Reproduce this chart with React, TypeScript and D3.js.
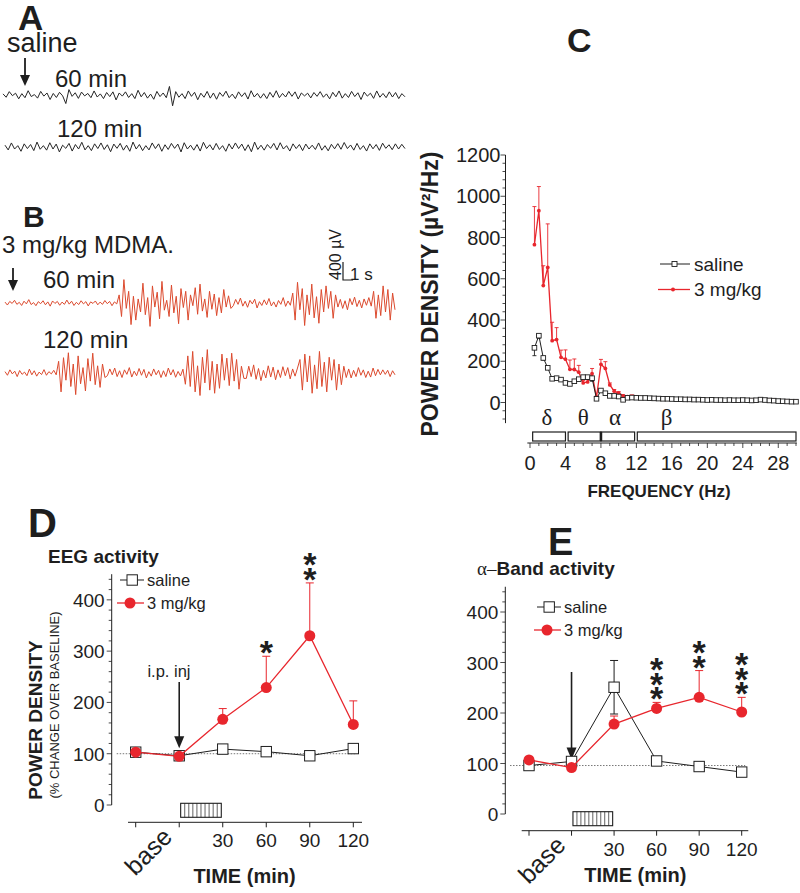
import * as d3 from 'd3';

const SANS = '"Liberation Sans", Arial, Helvetica, sans-serif';
const SERIF = '"Liberation Serif", "DejaVu Serif", serif';
const RED = '#e8262d';
const TRACE_RED = '#dc4a2e';
const INK = '#1e1e1e';

// ---- A / B : raw EEG traces (µV) ----
const salineTrace60 = [25,-50,75,-15,40,-85,30,-60,95,-35,10,-70,80,-25,45,-100,35,-55,60,-20,-190,120,-30,50,-75,65,-20,35,-60,90,-45,25,-80,55,-35,70,-110,45,-25,70,-55,30,-80,105,-40,55,-70,20,-95,80,-35,45,-60,190,-240,75,-50,30,-80,90,-30,60,-105,40,-50,80,-70,45,-95,55,-30,85,-60,20,-80,70,-35,50,-90,95,-45,35,-70,30,-80,60,-50,95,-60,35,-45,80,-30,70,-90,45,-20,40,-65,55,-30,75,-50,25,-85,60,-40,90,-70,30,-55,80,-35,50,-100,65,-25,40,-75,90,-50,35,-60,70,-45,55,-80,30,-40];
const salineTrace120 = [40,-65,90,-45,30,-95,70,-35,55,-80,110,-50,30,-70,95,-45,65,-110,40,-30,80,-90,55,-45,105,-65,30,-80,70,-35,90,-55,50,-105,65,-30,80,-70,40,-95,110,-45,55,-80,30,-65,90,-35,70,-95,50,-55,80,-30,65,-110,95,-45,40,-70,55,-90,105,-35,50,-65,80,-55,30,-95,70,-45,90,-35,65,-80,50,-105,110,-55,40,-70,55,-30,80,-65,95,-45,30,-90,70,-35,55,-80,65,-45,40,-55,90,-70,30,-85,60,-40,75,-50,100,-35,45,-70,80,-55,30,-90,70,-40,55,-75,85,-30,50,-60,70,-45,60,-35];
const mdmaTrace60 = [
  20,-45,35,-10,60,-30,15,-55,40,-20,75,-35,10,-60,30,-15,50,-40,25,-70,45,-10,35,-50,20,-30,65,-25,40,-55,15,-35,50,-20,30,-65,25,-10,45,-40,20,-30,55,-15,35,-60,25,-20,
  180,-300,520,-120,260,-480,150,-380,90,-200,440,-260,120,-520,380,-90,240,-350,480,-160,60,-300,400,-220,150,-460,320,-100,260,-380,180,-60,340,-250,420,-180,90,-320,260,-140,200,-280,120,-220,300,-90,160,-120,
  -60,80,-30,110,-70,40,-95,60,-20,85,-110,30,-55,70,-40,100,-65,25,-90,55,-30,120,-75,45,-50,
  220,-380,460,-150,320,-500,180,-260,420,-330,140,-450,300,-200,380,-120,260,-340,180,-90,
  80,-120,50,-150,100,-40,130,-80,60,-110,90,-50,120,-70,
  260,-340,180,-280,380,-200,300,-380,220,-150,
];
const mdmaTrace120 = [
  30,-50,70,-20,40,-80,55,-30,20,-60,85,-40,50,-70,20,-35,75,-50,30,-20,60,-40,
  260,-420,340,-160,450,-300,200,-480,380,-240,120,-400,320,-180,440,-260,160,-320,200,-100,
  -60,90,-40,110,-80,50,-100,70,-30,120,-90,40,-60,100,-50,80,-110,30,-70,90,-40,60,-100,50,-80,110,-45,75,-95,35,-65,85,
  -250,380,-300,480,-420,160,-500,350,-220,520,-380,260,-450,200,-340,420,-160,330,-280,440,-180,300,-360,150,-120,
  -120,150,-80,180,-140,100,-170,60,-110,160,-90,130,-150,70,-100,140,-60,120,-130,90,-70,110,
  300,-380,420,-200,380,-450,180,-350,480,-300,240,-420,350,-160,300,-380,200,-260,150,-100,
  90,-110,60,-80,120,-50,70,-100,40,-90,110,-60,80,-40,70,-30,60,-80,50,-40,
];

// ---- C : power spectrum ----
const freqHz = [0.5,1,1.5,2,2.5,3,3.5,4,4.5,5,5.5,6,6.5,7,7.5,8,8.5,9,9.5,10,10.5,11,11.5,12,12.5,13,13.5,14,14.5,15,15.5,16,16.5,17,17.5,18,18.5,19,19.5,20,20.5,21,21.5,22,22.5,23,23.5,24,24.5,25,25.5,26,26.5,27,27.5,28,28.5,29,29.5,30];
const specSaline = [265,324,216,168,115,118,111,95,90,103, 113,123,123,118,18,58,45,32,32,29, 13,23,24,23,22,22,21,20,19,18, 18,17,16,16,15,15,14,14,13,12, 13,12,12,11,12,11,11,12,11,10, 11,14,12,10,9,7,6,5,4,4];
const specSalineErr = [38,12,10,8,6,5,5,6,5,6, 6,8,10,15,4,6,4,3,3,3, 2,2,2,2,2,2,2,2,2,2, 2,2,2,2,2,2,2,2,2,2, 2,2,2,2,2,2,2,2,2,2, 2,2,2,2,2,2,2,2,2,2];
const specMdma = [765,930,567,655,300,305,219,210,161,160, 147,95,100,140,25,185,165,85,55,45, 32,28,27,26,24,23,22,21,20,19, 19,18,17,17,16,16,15,15,14,13, 14,13,13,12,13,12,12,13,12,11, 12,15,13,11,10,8,7,6,5,5];
const specMdmaErr = [185,117,96,211,89,58,35,45,45,51, 33,12,14,25,6,24,33,10,8,8, 6,5,10,4,3,3,3,3,3,3, 3,3,3,3,3,3,3,3,3,3, 3,3,3,3,3,3,3,3,3,3, 3,3,3,3,3,3,3,3,3,3];
const bandNames = ['δ', 'θ', 'α', 'β'];
const bandFrom = [0.3, 4.3, 8, 12.1];
const bandTo = [4, 8, 11.8, 30];
const bandLabelHz = [1.9, 6, 9.6, 15.4];
const freqTicks = [0, 4, 8, 12, 16, 20, 24, 28];
const specTicks = [0, 200, 400, 600, 800, 1000, 1200];

// ---- D / E : time course (% of baseline) ----
const timeMin = [-30, 0, 30, 60, 90, 120];
const timeLabels = ['base', '', '30', '60', '90', '120'];
const powerTicks = [0, 100, 200, 300, 400];

const eegSaline = [103, 96, 109, 104, 96, 110];
const eegSalineErr = [0, 0, 0, 0, 0, 0];
const eegMdma = [103, 95, 167, 229, 330, 157];
const eegMdmaErr = [0, 0, 21, 61, 103, 46];
const eegStars = [0, 0, 0, 1, 2, 0];

const alphaSaline = [96, 104, 251, 105, 94, 83];
const alphaSalineErr = [0, 0, 53, 0, 0, 0];
const alphaMdma = [107, 92, 178, 209, 231, 202];
const alphaMdmaErr = [0, 0, 16, 12, 53, 29];
const alphaStars = [0, 0, 0, 3, 2, 3];

function DownArrow({ x, y1, y2, head = 11, half = 4.5, w = 1.6 }: any) {
  return (
    <g>
      <line x1={x} x2={x} y1={y1} y2={y2 - head + 1} stroke={INK} strokeWidth={w} />
      <path d={`M${x - half},${y2 - head}L${x + half},${y2 - head}L${x},${y2}Z`} fill={INK} />
    </g>
  );
}

function Trace({ data, x0, x1, cy, color, width = 1 }: any) {
  const x = d3.scaleLinear().domain([0, data.length - 1]).range([x0, x1]);
  const y = d3.scaleLinear().domain([-400, 400]).range([cy + 18, cy - 18]);
  const line = d3.line<number>().x((_, i) => x(i)).y((d) => y(d));
  return <path d={line(data) || ''} fill="none" stroke={color} strokeWidth={width} strokeLinejoin="round" />;
}

function SpectrumPanel() {
  const x = d3.scaleLinear().domain([0, 30]).range([530, 796]);
  const y = d3.scaleLinear().domain([0, 1200]).range([402.5, 155]);
  const axisX = 505.5;
  const axisY = 443;
  const line = d3.line<number>().x((_, i) => x(freqHz[i])).y((d) => y(d));
  const minorY = d3.range(-80, 1201, 40);
  const minorX = d3.range(0, 31, 1);

  return (
    <g fontFamily={SANS} fill={INK}>
      {/* y axis */}
      <line x1={axisX} x2={axisX} y1={y(1200)} y2={y(-100)} stroke={INK} strokeWidth={1} />
      {minorY.map((v) => (
        <line key={v} x1={axisX - (v % 200 === 0 ? 5 : 3)} x2={axisX} y1={y(v)} y2={y(v)} stroke={INK} strokeWidth={0.8} />
      ))}
      {specTicks.map((v) => (
        <text key={v} x={axisX - 5} y={y(v) + 7} fontSize={20} textAnchor="end">{v}</text>
      ))}
      <text transform={`translate(438,294) rotate(-90)`} fontSize={23} fontWeight="bold" textAnchor="middle">
        POWER DENSITY (µV²/Hz)
      </text>

      {/* x axis */}
      <line x1={x(-0.3)} x2={x(30.1)} y1={axisY} y2={axisY} stroke={INK} strokeWidth={1} />
      {minorX.map((v) => (
        <line key={v} x1={x(v)} x2={x(v)} y1={axisY} y2={axisY + (v % 4 === 0 ? 5 : 3)} stroke={INK} strokeWidth={0.8} />
      ))}
      {freqTicks.map((v) => (
        <text key={v} x={x(v)} y={470} fontSize={20} textAnchor="middle">{v}</text>
      ))}
      <text x={659} y={497} fontSize={17} fontWeight="bold" textAnchor="middle">FREQUENCY (Hz)</text>

      {/* frequency bands */}
      {bandNames.map((b, i) => (
        <g key={b}>
          <rect x={x(bandFrom[i])} y={432} width={x(bandTo[i]) - x(bandFrom[i])} height={9} fill="#fff" stroke={INK} strokeWidth={1.2} />
          <text x={x(bandLabelHz[i])} y={425} fontFamily={SERIF} fontSize={23} textAnchor="middle">{b}</text>
        </g>
      ))}
      <rect x={x(8) - 1.3} y={432} width={2.6} height={9} fill={INK} />

      {/* 3 mg/kg series (under) */}
      <path d={line(specMdma) || ''} fill="none" stroke={RED} strokeWidth={1.3} />
      {specMdma.map((v, i) => (
        <g key={i} stroke={RED} strokeWidth={0.9}>
          <line x1={x(freqHz[i])} x2={x(freqHz[i])} y1={y(v)} y2={y(v + specMdmaErr[i])} />
          <line x1={x(freqHz[i]) - 2} x2={x(freqHz[i]) + 2} y1={y(v + specMdmaErr[i])} y2={y(v + specMdmaErr[i])} />
        </g>
      ))}
      {specMdma.map((v, i) => (
        <circle key={i} cx={x(freqHz[i])} cy={y(v)} r={1.9} fill={RED} />
      ))}

      {/* saline series */}
      <path d={line(specSaline) || ''} fill="none" stroke={INK} strokeWidth={1} />
      {specSaline.map((v, i) => (
        <g key={i} stroke={INK} strokeWidth={0.9}>
          <line x1={x(freqHz[i])} x2={x(freqHz[i])} y1={y(v)} y2={y(v - specSalineErr[i])} />
          <line x1={x(freqHz[i]) - 2} x2={x(freqHz[i]) + 2} y1={y(v - specSalineErr[i])} y2={y(v - specSalineErr[i])} />
        </g>
      ))}
      {specSaline.map((v, i) => (
        <rect key={i} x={x(freqHz[i]) - 2.3} y={y(v) - 2.3} width={4.6} height={4.6} fill="#fff" stroke={INK} strokeWidth={0.9} />
      ))}

      {/* legend */}
      <line x1={660} x2={690} y1={264} y2={264} stroke={INK} strokeWidth={1} />
      <rect x={672} y={261.5} width={5} height={5} fill="#fff" stroke={INK} strokeWidth={0.9} />
      <text x={694} y={271} fontSize={19}>saline</text>
      <line x1={658} x2={690} y1={289.5} y2={289.5} stroke={RED} strokeWidth={1.3} />
      <circle cx={673} cy={289.5} r={2} fill={RED} />
      <text x={694} y={296} fontSize={19}>3 mg/kg</text>

      <text x={567} y={52} fontSize={34} fontWeight="bold">C</text>
    </g>
  );
}

function TimePanel({
  x0, x1, yBase, yTop, yAxisX, xAxisY, xAxisL, xAxisR, titleY,
  saline, salineErr, mdma, mdmaErr, stars, refLevel,
  legendX, legendY, arrowTop,
}: any) {
  const x = d3.scaleLinear().domain([-30, 120]).range([x0, x1]);
  const y = d3.scaleLinear().domain([0, 450]).range([yBase, yTop]);
  const line = d3.line<number>().x((_, i) => x(timeMin[i])).y((d) => y(d));
  const minor = d3.range(0, 451, 20);
  const boxL = x(1);
  const boxR = x(29);
  const hatch = d3.range(1, 10).map((k) => boxL + ((boxR - boxL) * k) / 10);

  return (
    <g fontFamily={SANS} fill={INK}>
      {/* y axis */}
      <line x1={yAxisX} x2={yAxisX} y1={y(450)} y2={y(0)} stroke={INK} strokeWidth={1} />
      {minor.map((v) => (
        <line key={v} x1={yAxisX - (v % 100 === 0 ? 5 : 3)} x2={yAxisX} y1={y(v)} y2={y(v)} stroke={INK} strokeWidth={0.8} />
      ))}
      {powerTicks.map((v) => (
        <text key={v} x={yAxisX - 7} y={y(v) + 7} fontSize={19} textAnchor="end">{v}</text>
      ))}

      {/* x axis */}
      <line x1={xAxisL} x2={xAxisR} y1={xAxisY} y2={xAxisY} stroke={INK} strokeWidth={1} />
      {timeMin.map((t) => (
        <line key={t} x1={x(t)} x2={x(t)} y1={xAxisY} y2={xAxisY + 5} stroke={INK} strokeWidth={1} />
      ))}
      {timeLabels.map((l, i) =>
        l === 'base' ? (
          <text key={l} transform={`translate(${x(timeMin[i]) + 38},${xAxisY + 16}) rotate(-45)`} fontSize={25} textAnchor="end">{l}</text>
        ) : l ? (
          <text key={l} x={x(timeMin[i])} y={xAxisY + 25} fontSize={19} textAnchor="middle">{l}</text>
        ) : null,
      )}
      <text x={(x(-30) + x(120)) / 2} y={titleY} fontSize={20} fontWeight="bold" textAnchor="middle">TIME (min)</text>

      {/* injection box */}
      <rect x={boxL} y={xAxisY - 19} width={boxR - boxL} height={14} fill="#fff" stroke={INK} strokeWidth={1.1} />
      {hatch.map((hx, k) => (
        <line key={k} x1={hx} x2={hx} y1={xAxisY - 19} y2={xAxisY - 5} stroke={INK} strokeWidth={0.7} />
      ))}

      {/* baseline reference */}
      <line x1={x0 - 19} x2={x1 + 3.5} y1={y(refLevel)} y2={y(refLevel)} stroke="#555" strokeWidth={0.8} strokeDasharray="1.5,1.5" />

      {/* injection arrow */}
      <DownArrow x={x(0)} y1={arrowTop} y2={y(mdma[1]) - 8} head={12} half={5} />

      {/* saline */}
      <path d={line(saline) || ''} fill="none" stroke={INK} strokeWidth={1} />
      {saline.map((v: number, i: number) =>
        salineErr[i] > 0 ? (
          <g key={i} stroke={INK} strokeWidth={1}>
            <line x1={x(timeMin[i])} x2={x(timeMin[i])} y1={y(v - salineErr[i])} y2={y(v + salineErr[i])} />
            <line x1={x(timeMin[i]) - 4} x2={x(timeMin[i]) + 4} y1={y(v + salineErr[i])} y2={y(v + salineErr[i])} />
            <line x1={x(timeMin[i]) - 4} x2={x(timeMin[i]) + 4} y1={y(v - salineErr[i])} y2={y(v - salineErr[i])} />
          </g>
        ) : null,
      )}
      {saline.map((v: number, i: number) => (
        <rect key={i} x={x(timeMin[i]) - 5.2} y={y(v) - 5.2} width={10.4} height={10.4} fill="#fff" stroke={INK} strokeWidth={1} />
      ))}

      {/* 3 mg/kg */}
      <path d={line(mdma) || ''} fill="none" stroke={RED} strokeWidth={1.3} />
      {mdma.map((v: number, i: number) =>
        mdmaErr[i] > 0 ? (
          <g key={i} stroke={RED} strokeWidth={1}>
            <line x1={x(timeMin[i])} x2={x(timeMin[i])} y1={y(v)} y2={y(v + mdmaErr[i])} />
            <line x1={x(timeMin[i]) - 4} x2={x(timeMin[i]) + 4} y1={y(v + mdmaErr[i])} y2={y(v + mdmaErr[i])} />
          </g>
        ) : null,
      )}
      {mdma.map((v: number, i: number) => (
        <circle key={i} cx={x(timeMin[i])} cy={y(v)} r={5.5} fill={RED} />
      ))}

      {/* significance, stacked asterisks */}
      {stars.map((n: number, i: number) => {
        if (!n) return null;
        const bottom = y(mdma[i] + mdmaErr[i]) - 11;
        const cx = x(timeMin[i]);
        return (
          <text key={i} fontSize={34} fontWeight="bold" textAnchor="middle">
            {d3.range(n).map((k) => (
              <tspan key={k} x={cx} y={bottom - (n - 1 - k) * 14.5 + 19}>*</tspan>
            ))}
          </text>
        );
      })}

      {/* legend */}
      <line x1={legendX} x2={legendX + 24} y1={legendY} y2={legendY} stroke={INK} strokeWidth={1} />
      <rect x={legendX + 7} y={legendY - 5.2} width={10.4} height={10.4} fill="#fff" stroke={INK} strokeWidth={1} />
      <text x={legendX + 27} y={legendY + 6} fontSize={16.5}>saline</text>
      <line x1={legendX - 3} x2={legendX + 24} y1={legendY + 23} y2={legendY + 23} stroke={RED} strokeWidth={1.3} />
      <circle cx={legendX + 10} cy={legendY + 23} r={5.5} fill={RED} />
      <text x={legendX + 27} y={legendY + 29} fontSize={16.5}>3 mg/kg</text>
    </g>
  );
}

export default function App() {
  return (
    <svg width={800} height={893} style={{ position: 'absolute', left: 0, top: 0, background: '#fff' }}>
      <rect width={800} height={893} fill="#fff" />

      {/* A */}
      <g fontFamily={SANS} fill={INK}>
        <text x={18} y={30} fontSize={35} fontWeight="bold">A</text>
        <text x={7} y={52} fontSize={27}>saline</text>
        <DownArrow x={25} y1={58} y2={86} head={11} half={5} w={1.8} />
        <text x={55} y={87} fontSize={24}>60 min</text>
        <text x={57} y={137} fontSize={24}>120 min</text>
      </g>
      <Trace data={salineTrace60} x0={3} x1={405} cy={95} color="#262626" />
      <Trace data={salineTrace120} x0={5} x1={405} cy={147} color="#262626" />

      {/* B */}
      <g fontFamily={SANS} fill={INK}>
        <text x={23} y={227} fontSize={30} fontWeight="bold">B</text>
        <text x={2} y={253} fontSize={24}>3 mg/kg MDMA.</text>
        <DownArrow x={13} y1={268} y2={291} head={11} half={5} w={1.8} />
        <text x={43} y={288} fontSize={24}>60 min</text>
        <text x={43} y={348} fontSize={24}>120 min</text>
        <text transform="translate(341,280) rotate(-90)" fontSize={16}>400 µV</text>
        <path d="M343,262V280H353" fill="none" stroke={INK} strokeWidth={1.2} />
        <text x={350} y={280} fontSize={17}>1 s</text>
      </g>
      <Trace data={mdmaTrace60} x0={5} x1={395} cy={303} color={TRACE_RED} />
      <Trace data={mdmaTrace120} x0={5} x1={395} cy={373} color={TRACE_RED} />

      {/* C */}
      <SpectrumPanel />

      {/* D */}
      <g fontFamily={SANS} fill={INK}>
        <text x={28} y={537} fontSize={40} fontWeight="bold">D</text>
        <text x={48} y={563} fontSize={19} fontWeight="bold">EEG activity</text>
        <text transform="translate(41.5,720) rotate(-90)" fontSize={19} fontWeight="bold" textAnchor="middle">POWER DENSITY</text>
        <text transform="translate(59,705) rotate(-90)" fontSize={13} textAnchor="middle">(% CHANGE OVER BASELINE)</text>
        <text x={169} y={677} fontSize={16.5} textAnchor="middle">i.p. inj</text>
      </g>
      <TimePanel
        x0={135.7} x1={353.3} yBase={805} yTop={574.2} yAxisX={111.7} xAxisY={822.3} xAxisL={128} xAxisR={362} titleY={883}
        saline={eegSaline} salineErr={eegSalineErr} mdma={eegMdma} mdmaErr={eegMdmaErr} stars={eegStars} refLevel={100}
        legendX={120} legendY={580} arrowTop={682}
      />

      {/* E */}
      <g fontFamily={SANS} fill={INK}>
        <text x={548} y={555} fontSize={38} fontWeight="bold">E</text>
        <text x={477} y={575} fontSize={19} fontWeight="bold">
          <tspan fontFamily={SERIF} fontWeight="normal">α–</tspan>Band activity
        </text>
      </g>
      <TimePanel
        x0={529} x1={741.7} yBase={814} yTop={586.75} yAxisX={505.3} xAxisY={830.7} xAxisL={521.7} xAxisR={748.3} titleY={882}
        saline={alphaSaline} salineErr={alphaSalineErr} mdma={alphaMdma} mdmaErr={alphaMdmaErr} stars={alphaStars} refLevel={96}
        legendX={537} legendY={607} arrowTop={672}
      />
    </svg>
  );
}
